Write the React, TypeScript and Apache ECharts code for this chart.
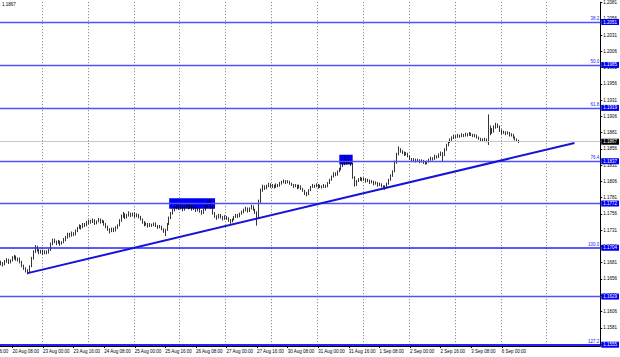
import { useEffect, useRef } from "react";
import * as echarts from "echarts";

// ---- data ----
const tradingDays = ["20 Aug", "23 Aug", "24 Aug", "25 Aug", "26 Aug", "27 Aug", "30 Aug", "31 Aug", "1 Sep", "2 Sep", "3 Sep", "6 Sep", "7 Sep", "8 Sep"];
const firstHour = 2;
const slotCount = 314;
const barCount = 272;
const labelStart = 6;
const labelEvery = 16;
const gridStart = 22;
const gridEvery = 24;

const opens = [
  1.1682, 1.1680, 1.1678, 1.1683, 1.1685, 1.1681, 1.1684, 1.1688, 1.1690, 1.1686,
  1.1687, 1.1682, 1.1676, 1.1672, 1.1669, 1.1667, 1.1675, 1.1688, 1.1698, 1.1705,
  1.1700, 1.1697, 1.1699, 1.1695, 1.1698, 1.1696, 1.1700, 1.1710, 1.1716, 1.1713,
  1.1711, 1.1714, 1.1710, 1.1712, 1.1716, 1.1720, 1.1725, 1.1722, 1.1727, 1.1724,
  1.1730, 1.1734, 1.1737, 1.1735, 1.1740, 1.1738, 1.1742, 1.1745, 1.1743, 1.1746,
  1.1741, 1.1744, 1.1747, 1.1743, 1.1745, 1.1740, 1.1736, 1.1732, 1.1729, 1.1733,
  1.1730, 1.1735, 1.1738, 1.1746, 1.1752, 1.1755, 1.1750, 1.1754, 1.1757, 1.1753,
  1.1756, 1.1752, 1.1755, 1.1751, 1.1748, 1.1743, 1.1739, 1.1741, 1.1737, 1.1740,
  1.1738, 1.1741, 1.1738, 1.1735, 1.1737, 1.1733, 1.1729, 1.1731, 1.1740, 1.1750,
  1.1757, 1.1762, 1.1765, 1.1768, 1.1764, 1.1767, 1.1762, 1.1766, 1.1770, 1.1765,
  1.1768, 1.1763, 1.1766, 1.1761, 1.1764, 1.1760, 1.1757, 1.1762, 1.1768, 1.1772,
  1.1774, 1.1766, 1.1758, 1.1752, 1.1750, 1.1754, 1.1751, 1.1748, 1.1752, 1.1749,
  1.1746, 1.1744, 1.1747, 1.1751, 1.1754, 1.1752, 1.1756, 1.1759, 1.1762, 1.1765,
  1.1760, 1.1764, 1.1768, 1.1763, 1.1758, 1.1752, 1.1775, 1.1792, 1.1798, 1.1795,
  1.1799, 1.1802, 1.1798, 1.1800, 1.1797, 1.1801, 1.1799, 1.1803, 1.1805, 1.1807,
  1.1804, 1.1806, 1.1803, 1.1801, 1.1798, 1.1800, 1.1796, 1.1799, 1.1795, 1.1792,
  1.1788, 1.1786, 1.1792, 1.1797, 1.1800, 1.1798, 1.1801, 1.1797, 1.1799, 1.1797,
  1.1800, 1.1798, 1.1803, 1.1808, 1.1813, 1.1818, 1.1816, 1.1821, 1.1825, 1.1829,
  1.1833, 1.1837, 1.1834, 1.1836, 1.1832, 1.1812, 1.1800, 1.1806, 1.1809, 1.1811,
  1.1808, 1.1810, 1.1806, 1.1808, 1.1804, 1.1806, 1.1802, 1.1804, 1.1800, 1.1802,
  1.1799, 1.1796, 1.1798, 1.1802, 1.1808, 1.1815, 1.1821, 1.1835, 1.1848, 1.1855,
  1.1852, 1.1850, 1.1847, 1.1849, 1.1845, 1.1841, 1.1838, 1.1840, 1.1837, 1.1839,
  1.1836, 1.1838, 1.1835, 1.1834, 1.1836, 1.1839, 1.1842, 1.1840, 1.1845, 1.1843,
  1.1847, 1.1850, 1.1846, 1.1855, 1.1862, 1.1866, 1.1870, 1.1873, 1.1876, 1.1874,
  1.1877, 1.1875, 1.1878, 1.1876, 1.1879, 1.1877, 1.1880, 1.1878, 1.1876, 1.1877,
  1.1874, 1.1872, 1.1870, 1.1869, 1.1871, 1.1868, 1.1880, 1.1886, 1.1882, 1.1889,
  1.1893, 1.1891, 1.1884, 1.1880, 1.1882, 1.1879, 1.1881, 1.1877, 1.1878, 1.1874,
  1.1871, 1.1869,
];

const closes = [
  1.1680, 1.1678, 1.1683, 1.1685, 1.1681, 1.1684, 1.1688, 1.1690, 1.1686, 1.1687,
  1.1682, 1.1676, 1.1672, 1.1669, 1.1667, 1.1675, 1.1688, 1.1698, 1.1705, 1.1700,
  1.1697, 1.1699, 1.1695, 1.1698, 1.1696, 1.1700, 1.1710, 1.1716, 1.1713, 1.1711,
  1.1714, 1.1710, 1.1712, 1.1716, 1.1720, 1.1725, 1.1722, 1.1727, 1.1724, 1.1730,
  1.1734, 1.1737, 1.1735, 1.1740, 1.1738, 1.1742, 1.1745, 1.1743, 1.1746, 1.1741,
  1.1744, 1.1747, 1.1743, 1.1745, 1.1740, 1.1736, 1.1732, 1.1729, 1.1733, 1.1730,
  1.1735, 1.1738, 1.1746, 1.1752, 1.1755, 1.1750, 1.1754, 1.1757, 1.1753, 1.1756,
  1.1752, 1.1755, 1.1751, 1.1748, 1.1743, 1.1739, 1.1741, 1.1737, 1.1740, 1.1738,
  1.1741, 1.1738, 1.1735, 1.1737, 1.1733, 1.1729, 1.1731, 1.1740, 1.1750, 1.1757,
  1.1762, 1.1765, 1.1768, 1.1764, 1.1767, 1.1762, 1.1766, 1.1770, 1.1765, 1.1768,
  1.1763, 1.1766, 1.1761, 1.1764, 1.1760, 1.1757, 1.1762, 1.1768, 1.1772, 1.1774,
  1.1766, 1.1758, 1.1752, 1.1750, 1.1754, 1.1751, 1.1748, 1.1752, 1.1749, 1.1746,
  1.1744, 1.1747, 1.1751, 1.1754, 1.1752, 1.1756, 1.1759, 1.1762, 1.1765, 1.1760,
  1.1764, 1.1768, 1.1763, 1.1758, 1.1752, 1.1775, 1.1792, 1.1798, 1.1795, 1.1799,
  1.1802, 1.1798, 1.1800, 1.1797, 1.1801, 1.1799, 1.1803, 1.1805, 1.1807, 1.1804,
  1.1806, 1.1803, 1.1801, 1.1798, 1.1800, 1.1796, 1.1799, 1.1795, 1.1792, 1.1788,
  1.1786, 1.1792, 1.1797, 1.1800, 1.1798, 1.1801, 1.1797, 1.1799, 1.1797, 1.1800,
  1.1798, 1.1803, 1.1808, 1.1813, 1.1818, 1.1816, 1.1821, 1.1825, 1.1829, 1.1833,
  1.1837, 1.1834, 1.1836, 1.1832, 1.1812, 1.1800, 1.1806, 1.1809, 1.1811, 1.1808,
  1.1810, 1.1806, 1.1808, 1.1804, 1.1806, 1.1802, 1.1804, 1.1800, 1.1802, 1.1799,
  1.1796, 1.1798, 1.1802, 1.1808, 1.1815, 1.1821, 1.1835, 1.1848, 1.1855, 1.1852,
  1.1850, 1.1847, 1.1849, 1.1845, 1.1841, 1.1838, 1.1840, 1.1837, 1.1839, 1.1836,
  1.1838, 1.1835, 1.1834, 1.1836, 1.1839, 1.1842, 1.1840, 1.1845, 1.1843, 1.1847,
  1.1850, 1.1846, 1.1855, 1.1862, 1.1866, 1.1870, 1.1873, 1.1876, 1.1874, 1.1877,
  1.1875, 1.1878, 1.1876, 1.1879, 1.1877, 1.1880, 1.1878, 1.1876, 1.1877, 1.1874,
  1.1872, 1.1870, 1.1869, 1.1871, 1.1868, 1.1880, 1.1886, 1.1882, 1.1889, 1.1893,
  1.1891, 1.1884, 1.1880, 1.1882, 1.1879, 1.1881, 1.1877, 1.1878, 1.1874, 1.1871,
  1.1869, 1.1867,
];

const lows = [
  1.1677, 1.1675, 1.1677, 1.1681, 1.1679, 1.1680, 1.1683, 1.1686, 1.1684, 1.1683,
  1.1680, 1.1674, 1.1670, 1.1666, 1.1663, 1.1666, 1.1674, 1.1686, 1.1696, 1.1698,
  1.1694, 1.1695, 1.1693, 1.1694, 1.1694, 1.1695, 1.1699, 1.1708, 1.1711, 1.1708,
  1.1710, 1.1707, 1.1709, 1.1711, 1.1714, 1.1718, 1.1720, 1.1721, 1.1722, 1.1723,
  1.1728, 1.1733, 1.1732, 1.1734, 1.1736, 1.1737, 1.1740, 1.1741, 1.1742, 1.1739,
  1.1740, 1.1743, 1.1741, 1.1742, 1.1738, 1.1734, 1.1730, 1.1726, 1.1728, 1.1728,
  1.1729, 1.1733, 1.1737, 1.1744, 1.1750, 1.1748, 1.1749, 1.1752, 1.1751, 1.1752,
  1.1750, 1.1751, 1.1749, 1.1746, 1.1741, 1.1737, 1.1738, 1.1735, 1.1736, 1.1736,
  1.1737, 1.1736, 1.1733, 1.1734, 1.1731, 1.1727, 1.1722, 1.1730, 1.1739, 1.1748,
  1.1755, 1.1760, 1.1763, 1.1762, 1.1763, 1.1760, 1.1761, 1.1765, 1.1763, 1.1764,
  1.1761, 1.1762, 1.1759, 1.1760, 1.1758, 1.1755, 1.1756, 1.1761, 1.1766, 1.1770,
  1.1764, 1.1755, 1.1750, 1.1747, 1.1749, 1.1749, 1.1746, 1.1747, 1.1747, 1.1744,
  1.1741, 1.1743, 1.1746, 1.1750, 1.1750, 1.1751, 1.1755, 1.1757, 1.1760, 1.1758,
  1.1759, 1.1763, 1.1761, 1.1756, 1.1738, 1.1750, 1.1773, 1.1790, 1.1793, 1.1794,
  1.1797, 1.1796, 1.1796, 1.1795, 1.1796, 1.1797, 1.1798, 1.1801, 1.1803, 1.1802,
  1.1803, 1.1801, 1.1799, 1.1796, 1.1797, 1.1794, 1.1795, 1.1793, 1.1790, 1.1785,
  1.1783, 1.1785, 1.1791, 1.1796, 1.1796, 1.1797, 1.1795, 1.1796, 1.1795, 1.1796,
  1.1796, 1.1797, 1.1802, 1.1807, 1.1812, 1.1814, 1.1815, 1.1820, 1.1823, 1.1828,
  1.1831, 1.1832, 1.1833, 1.1830, 1.1810, 1.1798, 1.1799, 1.1805, 1.1807, 1.1806,
  1.1807, 1.1804, 1.1805, 1.1802, 1.1803, 1.1800, 1.1801, 1.1798, 1.1799, 1.1797,
  1.1794, 1.1793, 1.1797, 1.1801, 1.1807, 1.1813, 1.1820, 1.1833, 1.1846, 1.1850,
  1.1848, 1.1845, 1.1846, 1.1843, 1.1839, 1.1836, 1.1837, 1.1835, 1.1836, 1.1834,
  1.1835, 1.1833, 1.1832, 1.1832, 1.1835, 1.1838, 1.1838, 1.1839, 1.1841, 1.1842,
  1.1845, 1.1836, 1.1845, 1.1853, 1.1860, 1.1865, 1.1868, 1.1871, 1.1872, 1.1873,
  1.1873, 1.1874, 1.1874, 1.1875, 1.1875, 1.1876, 1.1876, 1.1874, 1.1874, 1.1872,
  1.1870, 1.1868, 1.1867, 1.1868, 1.1866, 1.1862, 1.1877, 1.1879, 1.1881, 1.1887,
  1.1888, 1.1882, 1.1878, 1.1879, 1.1877, 1.1878, 1.1875, 1.1875, 1.1872, 1.1869,
  1.1867, 1.1865,
];

const highs = [
  1.1684, 1.1682, 1.1685, 1.1688, 1.1687, 1.1686, 1.1691, 1.1693, 1.1692, 1.1689,
  1.1689, 1.1684, 1.1678, 1.1674, 1.1671, 1.1677, 1.1690, 1.1700, 1.1708, 1.1707,
  1.1702, 1.1701, 1.1701, 1.1700, 1.1700, 1.1702, 1.1712, 1.1718, 1.1718, 1.1715,
  1.1716, 1.1715, 1.1714, 1.1719, 1.1722, 1.1727, 1.1727, 1.1729, 1.1728, 1.1732,
  1.1736, 1.1740, 1.1739, 1.1742, 1.1742, 1.1745, 1.1747, 1.1747, 1.1749, 1.1748,
  1.1746, 1.1750, 1.1749, 1.1747, 1.1746, 1.1742, 1.1738, 1.1734, 1.1735, 1.1735,
  1.1737, 1.1740, 1.1748, 1.1755, 1.1759, 1.1757, 1.1756, 1.1760, 1.1758, 1.1758,
  1.1758, 1.1757, 1.1756, 1.1753, 1.1749, 1.1745, 1.1743, 1.1742, 1.1742, 1.1741,
  1.1743, 1.1743, 1.1739, 1.1739, 1.1738, 1.1734, 1.1733, 1.1742, 1.1752, 1.1759,
  1.1764, 1.1768, 1.1771, 1.1770, 1.1769, 1.1768, 1.1768, 1.1773, 1.1771, 1.1770,
  1.1769, 1.1768, 1.1767, 1.1766, 1.1765, 1.1762, 1.1764, 1.1770, 1.1775, 1.1779,
  1.1776, 1.1767, 1.1759, 1.1754, 1.1756, 1.1756, 1.1753, 1.1754, 1.1753, 1.1751,
  1.1748, 1.1749, 1.1753, 1.1756, 1.1756, 1.1758, 1.1761, 1.1764, 1.1767, 1.1766,
  1.1766, 1.1770, 1.1769, 1.1764, 1.1760, 1.1778, 1.1795, 1.1801, 1.1800, 1.1801,
  1.1804, 1.1803, 1.1802, 1.1801, 1.1803, 1.1802, 1.1805, 1.1807, 1.1809, 1.1808,
  1.1808, 1.1807, 1.1804, 1.1802, 1.1802, 1.1801, 1.1801, 1.1800, 1.1796, 1.1793,
  1.1790, 1.1794, 1.1799, 1.1802, 1.1801, 1.1803, 1.1802, 1.1801, 1.1800, 1.1802,
  1.1801, 1.1805, 1.1810, 1.1815, 1.1820, 1.1820, 1.1823, 1.1827, 1.1832, 1.1836,
  1.1845, 1.1840, 1.1839, 1.1838, 1.1834, 1.1814, 1.1808, 1.1811, 1.1813, 1.1812,
  1.1812, 1.1811, 1.1810, 1.1809, 1.1808, 1.1807, 1.1806, 1.1805, 1.1804, 1.1803,
  1.1800, 1.1800, 1.1804, 1.1810, 1.1817, 1.1823, 1.1838, 1.1850, 1.1860, 1.1857,
  1.1854, 1.1852, 1.1851, 1.1850, 1.1846, 1.1842, 1.1842, 1.1841, 1.1841, 1.1840,
  1.1840, 1.1839, 1.1837, 1.1838, 1.1841, 1.1844, 1.1843, 1.1847, 1.1846, 1.1849,
  1.1852, 1.1851, 1.1857, 1.1864, 1.1868, 1.1872, 1.1875, 1.1878, 1.1877, 1.1879,
  1.1878, 1.1880, 1.1879, 1.1881, 1.1880, 1.1882, 1.1881, 1.1879, 1.1879, 1.1878,
  1.1875, 1.1873, 1.1872, 1.1873, 1.1872, 1.1909, 1.1892, 1.1888, 1.1892, 1.1896,
  1.1895, 1.1892, 1.1886, 1.1884, 1.1883, 1.1883, 1.1882, 1.1880, 1.1879, 1.1875,
  1.1872, 1.1870,
];

const yTicks = [
  1.1556, 1.1581, 1.1606, 1.1631, 1.1656, 1.1681, 1.1706, 1.1731, 1.1756, 1.1781, 1.1806,
  1.1831, 1.1856, 1.1881, 1.1906, 1.1931, 1.1956, 1.1981, 1.2006, 1.2031, 1.2056, 1.2081,
];
const levelPrices = [1.2051, 1.1985, 1.1919, 1.1837, 1.1772, 1.1704, 1.1629, 1.1555];
const levelRatios = ["38.2", "50.0", "61.8", "76.4", "", "100.0", "", "127.2"];
const lastPrice = 1.1867;
const headerText = "1.1867";
const trendBars = [14, 300];
const trendPrices = [1.1665, 1.1865];
// [startBar, endBar, lowPrice, highPrice]
const zones = [
  [88, 112, 1.1764, 1.1780],
  [177, 184, 1.1832, 1.1847],
];
const prevLabel = "19 Aug 16:00";

const yMin = 1.1553;
const yMax = 1.20815;

// ---- styles ----
const W = 620;
const H = 357;
const GRID = { left: 0, right: 19, top: 0, bottom: 11 };
const FONT = '"Liberation Sans", Arial, sans-serif';
const FS = 4.5;
const LEVEL_BLUE = "#5050ff";
const STRONG_BLUE = "#2424f4";
const BOX_BLUE = "#0000f0";
const levelStroke = (i: number) =>
  i === levelPrices.length - 1 ? { color: STRONG_BLUE, width: 2 } : i === 5 ? { color: STRONG_BLUE, width: 1.6 } : { color: LEVEL_BLUE, width: 1.3 };

const categories: string[] = [];
tradingDays.forEach((d, di) => {
  for (let h = di === 0 ? firstHour : 0; h < 24; h++) {
    categories.push(`${d} ${String(h).padStart(2, "0")}:00`);
  }
});
categories.length = slotCount;

const candleData = opens.map((o, i) => [o, closes[i], lows[i], highs[i]]);

const isLabelSlot = (i: number) => i < barCount && i >= labelStart && (i - labelStart) % labelEvery === 0;

export default function App() {
  const ref = useRef<HTMLDivElement>(null);
  useEffect(() => {
    if (!ref.current) return;
    const chart = echarts.init(ref.current, null, { renderer: "svg" });
    const plotW = W - GRID.left - GRID.right;
    const slotW = plotW / slotCount;

    const boxLabel = (text: string, bg: string) => ({
      show: true,
      position: "end",
      distance: 1,
      formatter: text,
      color: "#ffffff",
      backgroundColor: bg,
      padding: [1, 2, 0, 2],
      fontSize: FS,
      fontFamily: FONT,
    });

    const levelLines: any[] = [];
    levelPrices.forEach((p, i) => {
      levelLines.push({
        yAxis: p,
        lineStyle: { ...levelStroke(i), type: "solid", opacity: 1 },
        label: boxLabel(p.toFixed(4), BOX_BLUE),
      });
      if (levelRatios[i]) {
        levelLines.push({
          yAxis: p,
          lineStyle: { color: "rgba(0,0,0,0)", width: 1, type: "solid" },
          label: {
            show: true,
            position: "insideEndTop",
            distance: 1,
            formatter: levelRatios[i],
            color: STRONG_BLUE,
            fontSize: FS,
            fontFamily: FONT,
          },
        });
      }
    });
    levelLines.push({
      yAxis: lastPrice,
      lineStyle: { color: "#c8c8c8", width: 1, type: "solid", opacity: 1 },
      label: boxLabel(lastPrice.toFixed(4), "#000000"),
    });

    chart.setOption({
      animation: false,
      backgroundColor: "#ffffff",
      grid: { ...GRID, containLabel: false },
      xAxis: {
        type: "category",
        data: categories,
        boundaryGap: true,
        axisLine: { show: true, lineStyle: { color: "#000000", width: 1 } },
        axisTick: {
          show: true,
          alignWithLabel: true,
          length: 2,
          interval: isLabelSlot,
          lineStyle: { color: "#000000" },
        },
        axisLabel: {
          show: true,
          interval: isLabelSlot,
          align: "left",
          margin: 3,
          fontSize: FS,
          fontFamily: FONT,
          color: "#000000",
        },
        splitLine: {
          show: true,
          interval: (i: number) => i >= gridStart && i < 300 && (i - gridStart) % gridEvery === 0,
          lineStyle: { color: "#7a7a7a", width: 1, type: [1, 2] },
        },
      },
      yAxis: {
        type: "value",
        position: "right",
        min: yMin,
        max: yMax,
        axisLine: { show: true, lineStyle: { color: "#000000", width: 1 } },
        axisTick: { show: true, length: 2, customValues: yTicks, lineStyle: { color: "#000000" } },
        axisLabel: {
          show: true,
          customValues: yTicks,
          margin: 3,
          fontSize: FS,
          fontFamily: FONT,
          color: "#000000",
          formatter: (v: number) => v.toFixed(4),
        },
        splitLine: { show: false },
      },
      graphic: [
        {
          type: "text",
          left: 2,
          top: 2,
          style: { text: headerText, fontSize: FS, fontFamily: FONT, fill: "#000000" },
        },
        {
          type: "text",
          x: (labelStart - labelEvery + 0.5) * slotW + GRID.left,
          y: H - GRID.bottom + 3,
          style: { text: prevLabel, fontSize: FS, fontFamily: FONT, fill: "#000000", verticalAlign: "top", align: "left" },
        },
      ],
      series: [
        {
          type: "candlestick",
          data: candleData,
          barMaxWidth: 1.4,
          itemStyle: {
            color: "#ffffff",
            color0: "#000000",
            borderColor: "#000000",
            borderColor0: "#000000",
            borderWidth: 0.8,
          },
          markArea: {
            silent: true,
            itemStyle: { color: BOX_BLUE, opacity: 1 },
            data: zones.map((z) => [
              { xAxis: categories[z[0]], yAxis: z[3] },
              { xAxis: categories[z[1]], yAxis: z[2] },
            ]),
          },
          markLine: {
            silent: true,
            precision: 5,
            symbol: ["none", "none"],
            animation: false,
            lineStyle: { color: LEVEL_BLUE, type: "solid", width: 1 },
            data: levelLines,
          },
        },
        {
          type: "line",
          data: [
            [categories[trendBars[0]], trendPrices[0]],
            [categories[trendBars[1]], trendPrices[1]],
          ],
          showSymbol: false,
          symbol: "none",
          lineStyle: { color: "#1414d8", width: 2 },
          z: 5,
        },
      ],
    });
    return () => chart.dispose();
  }, []);
  return <div ref={ref} style={{ position: "absolute", left: 0, top: 0, width: W, height: H }} />;
}
